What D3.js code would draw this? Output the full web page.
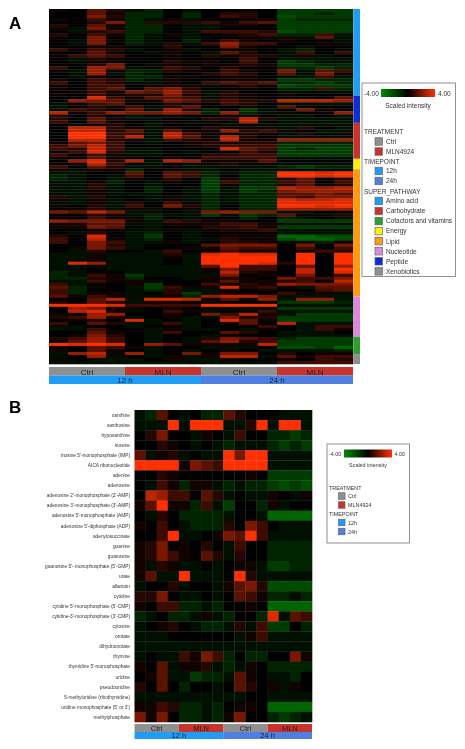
<!DOCTYPE html>
<html><head><meta charset="utf-8">
<script src="https://cdn.jsdelivr.net/npm/d3@7"></script>
<style>html,body{margin:0;padding:0;background:#fff}svg{display:block;filter:blur(0.45px)}text{font-family:"Liberation Sans",Arial,sans-serif;fill:#333}</style>
</head><body><svg id="c" width="465" height="749"></svg>
<script>
// Scaled-intensity codes: digits are reds, letters are greens
const intensityCodes = {"0":0,"1":.25,"2":.55,"3":.95,"4":1.4,"5":1.9,"6":2.4,"7":3,"8":3.5,"9":4,a:-.45,b:-1,c:-1.7,d:-2.2,e:-2.9};
const treatments = ["Ctrl","MLN","Ctrl","MLN"];
const timepoints = ["12 h","24 h"];
const colorStops = ["#008a00","#000000","#ff3000"];
const panelARows = [
"1042ab0a0010cccc","0041bb0b0220ccbc","0052bb0b0320dccc","1031ba1a0011cbbb","0025b2223134cccc","2041bb0aa110cccc",
"1a51bb0aa000cccc","0a23bb0a3332dccc","2031ba1a0123bb3a","1050ba0a00111a4a","0a51ba0b0310100a","0a50ba2a36330011",
"0011002005100a00","3132a01a0110ab0a","00410a10a420a303","134300102122a1a0","0a2100000030aaaa","0a1000211030cbaa",
"00250a101121ccbb","3065a1320200bbcb","1a61bb2103105a43","0a6aba0023204a51","0a10bb110110aa3a","1032ba100110ccbb",
"3032aa103434bbcb","10330111a121dccc","103404520010bb3b","01315463a200aaaa","10312252a2101000","00831443a210aa04",
"0654115423227776","a13400210320aaaa","a0213a2400104000","a3204a62b0ca0510","71365565b6ba1016","2020a0100110aa0a",
"2041aa002272aaaa","30410a1a1070aaaa","0a120a000a0aaaaa","07721a102111a20a","07724a41162310aa","09933a731021a2a1",
"09937a741720aaaa","07721a3217116666","14530a012122bbbb","357300012333cccc","3273aa000843cbcc","1382aa0a0031cccc",
"3031aa002233cccc","104100103333aaaa","06827a7611140000","11730a0a1211aaaa","3042aa0aaaaabcbb","1a11b01aa0aaaaaa",
"aa004043babb9989","ba0a3043b0bb9989","ba0a1020c1bb2402","aa1b0a10c3bb3403","aa2a0a00c1bb2412","aa2a0b0acacc7667",
"aa1a0b0acacb5666","aa1aaa0ababb4454","2a200a1ababb4355","1a1a0a1ababb8778","aa1a2031babb8888","102a3052b0bb9989",
"012a1a01b0bb6666","5475a10a5655aa00","0021abaacacb41a2","00311b0a00b0ba0a","65551a321100cccc","1144aa111331aaaa",
"11540a002231cccc","0011aa1a1223aaaa","0a20ab0a0000aaaa","2080ac0a0111eedd","3071ab0aa211deed","3053aa1a0221aab1",
"0052a00045550505","0153a00114330303","0a200a3003110132","aa1aaa2a89880909","aa1aaa1a99990909","aa1aaa0a99990909",
"a86aaa0a99982909","aaaaaaaa49330406","aa0aaaaa15330709","ba00aaaa17210708","ba31caaaa5010503","bb21b00a12105335",
"aa31110014112307","3a001c0031216555","4b10ac3118231a44","3b00ab2aa1010034","3b11a02ca110311a","41311a1b6775aaaa",
"0047a8871416a66a","2042a110a000cccb","999833339999aaaa","06511010aaaacccc","0781a031a003aaaa","116600105371accc",
"2362a01aa522cccc","01208a0a0841cccc","3042aa3a01407aaa","aa00a00a00030a33","aa300a1aa0a10a31","00410a300420aaa0",
"01520a00a100aaaa","23630a0a2543bccc","04630a0a4623cccc","989806411117cccc","10431a00aaa0ddce","10410a0a010aaaab",
"a6716a0515502011","a06a0a1a177a4133","10aaa01aa1001032","aaaaaaaaaaaa3333"];
const metabolites = ["xanthine","xanthosine","hypoxanthine","inosine","inosine 5'-monophosphate (IMP)","AICA ribonucleotide","adenine","adenosine","adenosine 2'-monophosphate (2'-AMP)","adenosine 3'-monophosphate (3'-AMP)","adenosine 5'-monophosphate (AMP)","adenosine 5'-diphosphate (ADP)","adenylosuccinate","guanine","guanosine","guanosine 5'- monophosphate (5'-GMP)","urate","allantoin","cytidine","cytidine 5'-monophosphate (5'-CMP)","cytidine-3'-monophosphate (3'-CMP)","cytosine","orotate","dihydroorotate","thymine","thymidine 5'-monophosphate","uridine","pseudouridine","5-methyluridine (ribothymidine)","uridine monophosphate (5' or 3')","methylphosphate"];
const panelBRows = ["ab40a0bb42000aaa","aaa9a999aa29a99a","02500a10a300bbcb","00210a0abaaabcbc","4a12a0aa9599aaaa","999915439999aaaa","002100000010cccc","0a31b11ababbcdcd","07633042a0aa10a1","14911b3ac00b1a00","0a20bbbba00aeeee","1030abbb20530aaa","0039aa015493aaaa","12501020a300bbbb","12531042a200bbbb","1a21aa0a011accbb","14aa9aaa092aaaaa","a002a00a1452dddd","2250aa0a0431bbab","1033bbab0010eeee","ba0bba1ab00b8a43","a0120abba2a3cc0b","aaa000000a13aaaa","aaaaaaaaaaaaaaaa","a0aa3153b0bb0051","104a112aba10bbbb","014aacbba410aab0","2040b00a04201a10","aaaaaaaaaa00aaaa","1132bbab0110eeee","5150bbab1500bcba"];
const pathways = ["Amino acid","Carbohydrate","Cofactors and vitamins","Energy","Lipid","Nucleotide","Peptide","Xenobiotics"];
const pathwayColors = ["#1f9df5","#c8332c","#2e9e2e","#ffef00","#ff9a0c","#dc88dc","#0b2fd0","#8f8f8f"];
const pathwayOrder = ["Amino acid","Peptide","Carbohydrate","Energy","Lipid","Nucleotide","Cofactors and vitamins","Xenobiotics"];
const pathwayRowCounts = [29,9,12,3.5,42.5,13.5,5.7,3.3];
const treatColors = ["#8f8f8f","#c8332c"];
const timeColors = ["#1f9df5","#4f7fe0"];

const svg = d3.select("#c");
const color = d3.scaleLinear().domain([-4,0,4]).range(colorStops);
const cols = d3.range(16);

function heat(rows, x0, x1, y0, y1){
  const x = d3.scaleBand().domain(cols).range([x0,x1]);
  const y = d3.scaleBand().domain(d3.range(rows.length)).range([y0,y1]);
  svg.append("g").selectAll("g").data(rows).join("g").selectAll("rect")
    .data((r,i)=>Array.from(r,(c,j)=>({i,j,v:intensityCodes[c]})))
    .join("rect").attr("x",d=>x(d.j)).attr("y",d=>y(d.i)).attr("width",x.bandwidth()+.3).attr("height",y.bandwidth()+.3)
    .attr("fill",d=>color(d.v));
  return {x,y};
}
function annot(x0,x1,yT,yM,yB,fs){
  const t = d3.scaleBand().domain(d3.range(4)).range([x0,x1]);
  const g = svg.append("g");
  g.selectAll("rect").data(treatments).join("rect").attr("x",(d,i)=>t(i)).attr("y",yT).attr("width",t.bandwidth()).attr("height",yM-yT).attr("fill",(d,i)=>treatColors[i%2]);
  g.selectAll("text").data(treatments).join("text").attr("x",(d,i)=>t(i)+t.bandwidth()/2).attr("y",yM-1).attr("text-anchor","middle").attr("font-size",fs).style("fill","#222").text(d=>d);
  const h = d3.scaleBand().domain(timepoints).range([x0,x1]);
  const g2 = svg.append("g");
  g2.selectAll("rect").data(timepoints).join("rect").attr("x",d=>h(d)).attr("y",yM).attr("width",h.bandwidth()).attr("height",yB-yM).attr("fill",(d,i)=>timeColors[i]);
  g2.selectAll("text").data(timepoints).join("text").attr("x",d=>h(d)+h.bandwidth()/2).attr("y",yB-1).attr("text-anchor","middle").attr("font-size",fs).style("fill","#123").text(d=>d);
}
function label(t,x,y,fs,opt={}){
  return svg.append("text").attr("x",x).attr("y",y).attr("font-size",fs).attr("text-anchor",opt.a||"start").attr("font-weight",opt.w||null).style("fill",opt.c||null).text(t);
}
function gradientBar(id,x,y,w,h){
  const g = svg.append("defs").append("linearGradient").attr("id",id);
  colorStops.forEach((c,i)=>g.append("stop").attr("offset",i/2).attr("stop-color",c));
  svg.append("rect").attr("x",x).attr("y",y).attr("width",w).attr("height",h).attr("fill",`url(#${id})`);
}
function swatch(x,y,s,c){
  svg.append("rect").attr("x",x).attr("y",y-s/2).attr("width",s).attr("height",s).attr("fill",c).attr("stroke","#666").attr("stroke-width",.7);
}

// Panel A
label("A",9,29,17,{w:"bold",c:"#000"});
heat(panelARows,49,353,9,364);
annot(49,353,367,375.5,384,8);
const side = d3.scaleLinear().domain([0,d3.sum(pathwayRowCounts)]).range([9,364]);
let cum = 0;
const sideData = pathwayOrder.map((p,i)=>{const s={p,a:cum,b:cum+pathwayRowCounts[i]};cum=s.b;return s;});
svg.append("g").selectAll("rect").data(sideData).join("rect").attr("x",353.5).attr("width",6.5)
  .attr("y",d=>side(d.a)).attr("height",d=>side(d.b)-side(d.a)).attr("fill",d=>pathwayColors[pathways.indexOf(d.p)]);

svg.append("rect").attr("x",362).attr("y",83).attr("width",93.5).attr("height",193.5).attr("fill","#fff").attr("stroke","#777").attr("stroke-width",.8);
gradientBar("ga",381,89,54,8);
label("-4.00",364,96,6.5); label("4.00",438,96,6.5);
label("Scaled intensity",408,108,6.5,{a:"middle"});
label("TREATMENT",364,134,6.5);
["Ctrl","MLN4924"].forEach((t,i)=>{const y=141.5+10*i;swatch(375,y,7.5,treatColors[i]);label(t,386,y+2.3,6.5);});
label("TIMEPOINT",364,164,6.5);
["12h","24h"].forEach((t,i)=>{const y=171+10*i;swatch(375,y,7.5,timeColors[i]);label(t,386,y+2.3,6.5);});
label("SUPER_PATHWAY",364,194,6.5);
pathways.forEach((t,i)=>{const y=201+10.05*i;swatch(375,y,7.5,pathwayColors[i]);label(t,386,y+2.3,6.5);});

// Panel B
label("B",9,413,17,{w:"bold",c:"#000"});
const hb = heat(panelBRows,134.5,312,410,722);
svg.append("g").selectAll("text").data(metabolites).join("text")
  .attr("x",130).attr("y",(d,i)=>hb.y(i)+hb.y.bandwidth()/2+1.8).attr("text-anchor","end").attr("font-size",4.8).text(d=>d);
annot(134.5,312,724,732,739,7.5);

svg.append("rect").attr("x",327).attr("y",444).attr("width",82.5).attr("height",99).attr("fill","#fff").attr("stroke","#777").attr("stroke-width",.8);
gradientBar("gb",344,449.5,48,8);
label("-4.00",329,456,5.4); label("4.00",394.5,456,5.4);
label("Scaled intensity",368,466.5,5.4,{a:"middle"});
label("TREATMENT",329,490,5.4);
["Ctrl","MLN4924"].forEach((t,i)=>{const y=496+9*i;swatch(338.5,y,6.5,treatColors[i]);label(t,348,y+2,5.4);});
label("TIMEPOINT",329,516,5.4);
["12h","24h"].forEach((t,i)=>{const y=522.5+9*i;swatch(338.5,y,6.5,timeColors[i]);label(t,348,y+2,5.4);});
</script></body></html>
